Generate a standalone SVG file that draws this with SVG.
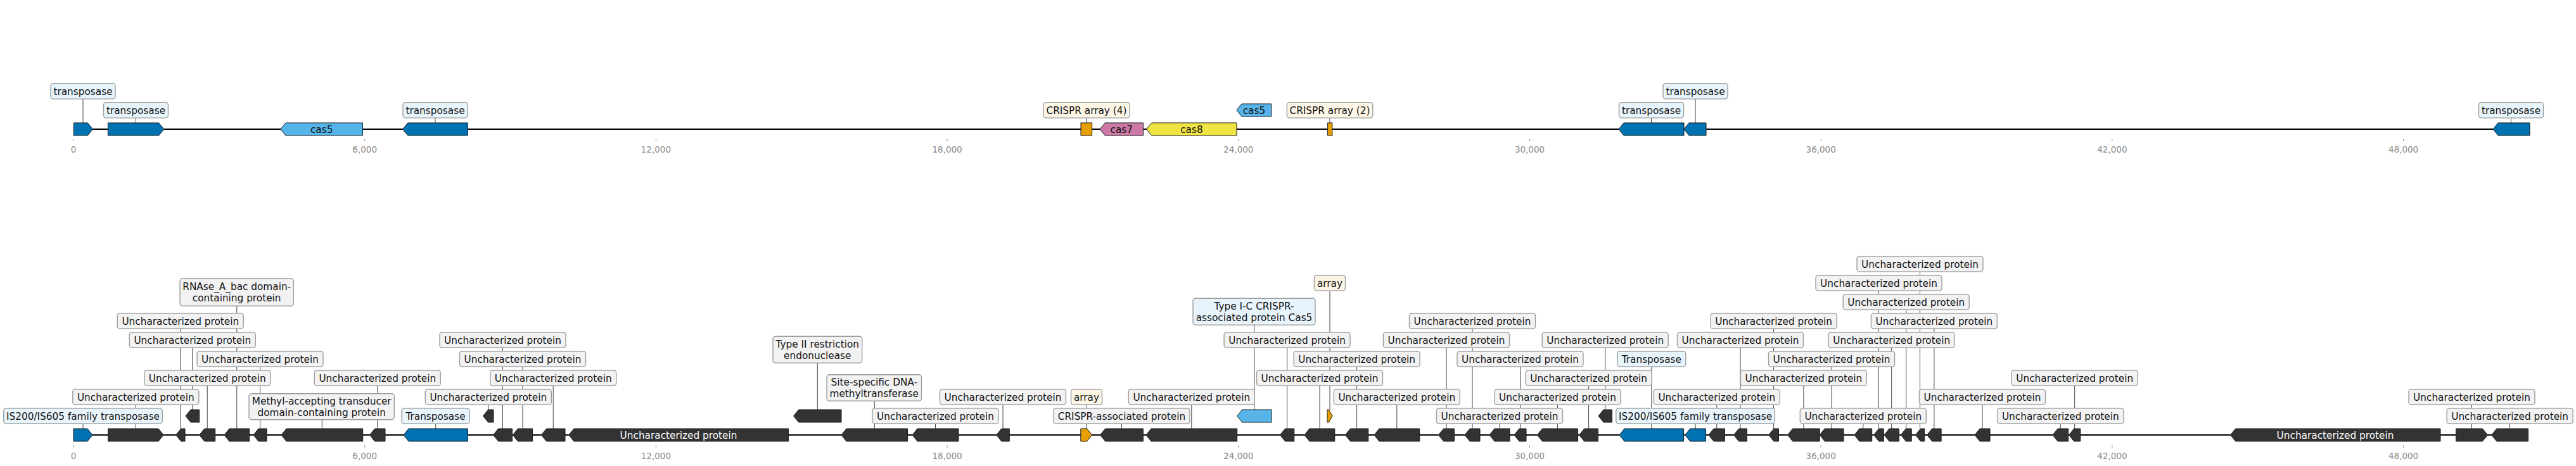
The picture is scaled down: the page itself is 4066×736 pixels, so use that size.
<svg xmlns="http://www.w3.org/2000/svg" width="4066" height="736" viewBox="0 0 4066 736">
<style>
text{font-family:"DejaVu Sans","Liberation Sans",sans-serif;font-size:15.3px;fill:#111;text-anchor:middle}
.bb{stroke:#000;stroke-width:2.2;fill:none}
.conn line{stroke:#444;stroke-width:1}
.g{stroke:#1a1a1a;stroke-width:1}
.dk{fill:#333}
.bl{fill:#0072B2}
.sk{fill:#56B4E9}
.or{fill:#E69F00}
.pk{fill:#CC79A7}
.ye{fill:#F0E442}
.lb{fill:#f2f2f2;stroke:#9e9e9e;stroke-width:1.4}
.lb.t{fill:#e8f4fb}
.lb.a{fill:#fdf6e6}
.in{fill:#fff}
.tk line{stroke:#999;stroke-width:1}
.tk text{fill:#888;font-size:13.5px}
</style>
<defs>
<rect id="u" width="199" height="24.6" rx="4"/>
</defs>

<g id="backbones">
<line class="bb" x1="116" y1="204" x2="3993" y2="204"/>
<line class="bb" x1="116" y1="687" x2="3990.5" y2="687"/>
</g>

<g id="axes" class="tk">
<line x1="116" y1="219" x2="116" y2="223"/><text x="116" y="240.5">0</text>
<line x1="575.7" y1="219" x2="575.7" y2="223"/><text x="575.7" y="240.5">6,000</text>
<line x1="1035.4" y1="219" x2="1035.4" y2="223"/><text x="1035.4" y="240.5">12,000</text>
<line x1="1495.1" y1="219" x2="1495.1" y2="223"/><text x="1495.1" y="240.5">18,000</text>
<line x1="1954.8" y1="219" x2="1954.8" y2="223"/><text x="1954.8" y="240.5">24,000</text>
<line x1="2414.5" y1="219" x2="2414.5" y2="223"/><text x="2414.5" y="240.5">30,000</text>
<line x1="2874.2" y1="219" x2="2874.2" y2="223"/><text x="2874.2" y="240.5">36,000</text>
<line x1="3333.9" y1="219" x2="3333.9" y2="223"/><text x="3333.9" y="240.5">42,000</text>
<line x1="3793.6" y1="219" x2="3793.6" y2="223"/><text x="3793.6" y="240.5">48,000</text>
<line x1="116" y1="703" x2="116" y2="707"/><text x="116" y="724.5">0</text>
<line x1="575.7" y1="703" x2="575.7" y2="707"/><text x="575.7" y="724.5">6,000</text>
<line x1="1035.4" y1="703" x2="1035.4" y2="707"/><text x="1035.4" y="724.5">12,000</text>
<line x1="1495.1" y1="703" x2="1495.1" y2="707"/><text x="1495.1" y="724.5">18,000</text>
<line x1="1954.8" y1="703" x2="1954.8" y2="707"/><text x="1954.8" y="724.5">24,000</text>
<line x1="2414.5" y1="703" x2="2414.5" y2="707"/><text x="2414.5" y="724.5">30,000</text>
<line x1="2874.2" y1="703" x2="2874.2" y2="707"/><text x="2874.2" y="724.5">36,000</text>
<line x1="3333.9" y1="703" x2="3333.9" y2="707"/><text x="3333.9" y="724.5">42,000</text>
<line x1="3793.6" y1="703" x2="3793.6" y2="707"/><text x="3793.6" y="724.5">48,000</text>
</g>

<g id="connectors" class="conn">
<line x1="131" y1="144" x2="131" y2="194"/>
<line x1="214.5" y1="174" x2="214.5" y2="194"/>
<line x1="687" y1="174" x2="687" y2="194"/>
<line x1="1715" y1="174" x2="1715" y2="194"/>
<line x1="2099" y1="174" x2="2099" y2="194"/>
<line x1="2606.5" y1="174" x2="2606.5" y2="194"/>
<line x1="2676" y1="144" x2="2676" y2="194"/>
<line x1="3963.5" y1="174" x2="3963.5" y2="194"/>
<line x1="131" y1="657" x2="131" y2="677"/>
<line x1="214.3" y1="627" x2="214.3" y2="677"/>
<line x1="284.8" y1="507" x2="284.8" y2="677"/>
<line x1="303.8" y1="537" x2="303.8" y2="647"/>
<line x1="327.2" y1="597" x2="327.2" y2="677"/>
<line x1="373.8" y1="461" x2="373.8" y2="677"/>
<line x1="410.5" y1="567" x2="410.5" y2="677"/>
<line x1="508.3" y1="642" x2="508.3" y2="677"/>
<line x1="595.8" y1="597" x2="595.8" y2="677"/>
<line x1="687.7" y1="657" x2="687.7" y2="677"/>
<line x1="770.8" y1="627" x2="770.8" y2="647"/>
<line x1="793.5" y1="537" x2="793.5" y2="677"/>
<line x1="825" y1="567" x2="825" y2="677"/>
<line x1="873.2" y1="597" x2="873.2" y2="677"/>
<line x1="1290.3" y1="552" x2="1290.3" y2="647"/>
<line x1="1380.3" y1="612" x2="1380.3" y2="677"/>
<line x1="1476.5" y1="657" x2="1476.5" y2="677"/>
<line x1="1583" y1="627" x2="1583" y2="677"/>
<line x1="1715" y1="627" x2="1715" y2="677"/>
<line x1="1770.5" y1="657" x2="1770.5" y2="677"/>
<line x1="1880.8" y1="627" x2="1880.8" y2="677"/>
<line x1="1979.8" y1="492" x2="1979.8" y2="647"/>
<line x1="2031.6" y1="537" x2="2031.6" y2="677"/>
<line x1="2083" y1="597" x2="2083" y2="677"/>
<line x1="2099" y1="447" x2="2099" y2="647"/>
<line x1="2141.6" y1="567" x2="2141.6" y2="677"/>
<line x1="2204.8" y1="627" x2="2204.8" y2="677"/>
<line x1="2283" y1="537" x2="2283" y2="677"/>
<line x1="2324" y1="507" x2="2324" y2="677"/>
<line x1="2367" y1="657" x2="2367" y2="677"/>
<line x1="2399.5" y1="567" x2="2399.5" y2="677"/>
<line x1="2458.5" y1="627" x2="2458.5" y2="677"/>
<line x1="2507.6" y1="597" x2="2507.6" y2="677"/>
<line x1="2533.7" y1="537" x2="2533.7" y2="647"/>
<line x1="2606.8" y1="567" x2="2606.8" y2="677"/>
<line x1="2676.1" y1="657" x2="2676.1" y2="677"/>
<line x1="2709.8" y1="627" x2="2709.8" y2="677"/>
<line x1="2747" y1="537" x2="2747" y2="677"/>
<line x1="2799.6" y1="507" x2="2799.6" y2="677"/>
<line x1="2846.9" y1="597" x2="2846.9" y2="677"/>
<line x1="2891" y1="567" x2="2891" y2="677"/>
<line x1="2940.8" y1="657" x2="2940.8" y2="677"/>
<line x1="2965.5" y1="447" x2="2965.5" y2="677"/>
<line x1="2985.7" y1="537" x2="2985.7" y2="677"/>
<line x1="3008.7" y1="477" x2="3008.7" y2="677"/>
<line x1="3030.5" y1="417" x2="3030.5" y2="677"/>
<line x1="3052.9" y1="507" x2="3052.9" y2="677"/>
<line x1="3129" y1="627" x2="3129" y2="677"/>
<line x1="3252.3" y1="657" x2="3252.3" y2="677"/>
<line x1="3274.7" y1="597" x2="3274.7" y2="677"/>
<line x1="3901.5" y1="627" x2="3901.5" y2="677"/>
<line x1="3961.6" y1="657" x2="3961.6" y2="677"/>
</g>

<g id="top-track">
<g id="t1"><polygon class="g bl" points="116.3,194 138.4,194 146.4,204 138.4,214 116.3,214"/><rect class="lb t" x="80" y="131.7" width="102" height="24.6" rx="4"/><text x="131" y="149.6">transposase</text></g>
<g id="t2"><polygon class="g bl" points="170.4,194 250.7,194 258.7,204 250.7,214 170.4,214"/><rect class="lb t" x="163.5" y="161.7" width="102" height="24.6" rx="4"/><text x="214.5" y="179.6">transposase</text></g>
<g id="t3"><polygon class="g sk" points="442.9,204 450.9,194 572.5,194 572.5,214 450.9,214"/><text x="507.7" y="209.6">cas5</text></g>
<g id="t4"><polygon class="g bl" points="635.7,204 643.7,194 738.3,194 738.3,214 643.7,214"/><rect class="lb t" x="636" y="161.7" width="102" height="24.6" rx="4"/><text x="687" y="179.6">transposase</text></g>
<g id="t5"><rect class="g or" x="1706" y="194" width="17.6" height="20"/><rect class="lb a" x="1647" y="161.7" width="136" height="24.6" rx="4"/><text x="1715" y="179.6">CRISPR array (4)</text></g>
<g id="t6"><polygon class="g pk" points="1736.2,204 1744.2,194 1804.4,194 1804.4,214 1744.2,214"/><text x="1770.3" y="209.6">cas7</text></g>
<g id="t7"><polygon class="g ye" points="1809.7,204 1817.7,194 1952,194 1952,214 1817.7,214"/><text x="1880.9" y="209.6">cas8</text></g>
<g id="t8"><polygon class="g sk" points="1952,174 1960,164 2006.8,164 2006.8,184 1960,184"/><text x="1979.4" y="179.6">cas5</text></g>
<g id="t9"><rect class="g or" x="2095.6" y="194" width="7.2" height="20"/><rect class="lb a" x="2031.3" y="161.7" width="135.5" height="24.6" rx="4"/><text x="2099" y="179.6">CRISPR array (2)</text></g>
<g id="t10"><polygon class="g bl" points="2555,204 2563,194 2658,194 2658,214 2563,214"/><rect class="lb t" x="2555.5" y="161.7" width="102" height="24.6" rx="4"/><text x="2606.5" y="179.6">transposase</text></g>
<g id="t11"><polygon class="g bl" points="2658,204 2666,194 2693,194 2693,214 2666,214"/><rect class="lb t" x="2625" y="131.7" width="102" height="24.6" rx="4"/><text x="2676" y="149.6">transposase</text></g>
<g id="t12"><polygon class="g bl" points="3935,204 3943,194 3993,194 3993,214 3943,214"/><rect class="lb t" x="3912.5" y="161.7" width="102" height="24.6" rx="4"/><text x="3963.5" y="179.6">transposase</text></g>
</g>

<g id="bottom-track">
<g id="b1"><polygon class="g bl" points="116,677 138,677 146,687 138,697 116,697"/><rect class="lb t" x="5.8" y="644.7" width="250.4" height="24.6" rx="4"/><text x="131" y="662.6">IS200/IS605 family transposase</text></g>
<g id="b2"><polygon class="g dk" points="170.5,677 250,677 258,687 250,697 170.5,697"/><use href="#u" class="lb" x="114.8" y="614.7"/><text x="214.3" y="632.6">Uncharacterized protein</text></g>
<g id="b3"><polygon class="g dk" points="277.7,687 285.7,677 292,677 292,697 285.7,697"/><use href="#u" class="lb" x="185.3" y="494.7"/><text x="284.8" y="512.6">Uncharacterized protein</text></g>
<g id="b4"><polygon class="g dk" points="293,657 301,647 314.7,647 314.7,667 301,667"/><use href="#u" class="lb" x="204.3" y="524.7"/><text x="303.8" y="542.6">Uncharacterized protein</text></g>
<g id="b5"><polygon class="g dk" points="314.7,687 322.7,677 339.7,677 339.7,697 322.7,697"/><use href="#u" class="lb" x="227.7" y="584.7"/><text x="327.2" y="602.6">Uncharacterized protein</text></g>
<g id="b6"><polygon class="g dk" points="354,687 362,677 393.7,677 393.7,697 362,697"/><rect class="lb" x="284" y="440" width="179.4" height="43.3" rx="4"/><text x="373.7" y="458.3">RNAse_A_bac domain-</text><text x="373.7" y="476.3">containing protein</text></g>
<g id="b7"><polygon class="g dk" points="400,687 408,677 421,677 421,697 408,697"/><use href="#u" class="lb" x="311" y="554.7"/><text x="410.5" y="572.6">Uncharacterized protein</text></g>
<g id="b8"><polygon class="g dk" points="444,687 452,677 572.7,677 572.7,697 452,697"/><rect class="lb" x="393" y="621.7" width="229.3" height="41" rx="4"/><text x="507.7" y="639">Methyl-accepting transducer</text><text x="507.7" y="656.6">domain-containing protein</text></g>
<g id="b9"><polygon class="g dk" points="583.5,687 591.5,677 608,677 608,697 591.5,697"/><use href="#u" class="lb" x="496.3" y="584.7"/><text x="595.8" y="602.6">Uncharacterized protein</text></g>
<g id="b10"><polygon class="g bl" points="637,687 645,677 738.4,677 738.4,697 645,697"/><rect class="lb t" x="634" y="644.7" width="107" height="24.6" rx="4"/><text x="687.5" y="662.6">Transposase</text></g>
<g id="b11"><polygon class="g dk" points="762.5,657 770.5,647 779,647 779,667 770.5,667"/><use href="#u" class="lb" x="671.3" y="614.7"/><text x="770.8" y="632.6">Uncharacterized protein</text></g>
<g id="b12"><polygon class="g dk" points="778.6,687 786.6,677 808.5,677 808.5,697 786.6,697"/><use href="#u" class="lb" x="694" y="524.7"/><text x="793.5" y="542.6">Uncharacterized protein</text></g>
<g id="b13"><polygon class="g dk" points="809.4,687 817.4,677 840.6,677 840.6,697 817.4,697"/><use href="#u" class="lb" x="725.5" y="554.7"/><text x="825" y="572.6">Uncharacterized protein</text></g>
<g id="b14"><polygon class="g dk" points="854.5,687 862.5,677 892,677 892,697 862.5,697"/><use href="#u" class="lb" x="773.7" y="584.7"/><text x="873.2" y="602.6">Uncharacterized protein</text></g>
<g id="b15"><polygon class="g dk" points="897.8,687 905.8,677 1244.6,677 1244.6,697 905.8,697"/><text class="in" x="1071" y="692.6">Uncharacterized protein</text></g>
<g id="b16"><polygon class="g dk" points="1252.6,657 1260.6,647 1328,647 1328,667 1260.6,667"/><rect class="lb" x="1220" y="531.3" width="140.7" height="42" rx="4"/><text x="1290.3" y="549.1">Type II restriction</text><text x="1290.3" y="566.7">endonuclease</text></g>
<g id="b17"><polygon class="g dk" points="1328,687 1336,677 1432.6,677 1432.6,697 1336,697"/><rect class="lb" x="1305" y="591.7" width="149.5" height="41.6" rx="4"/><text x="1379.8" y="609.3">Site-specific DNA-</text><text x="1379.8" y="626.9">methyltransferase</text></g>
<g id="b18"><polygon class="g dk" points="1440,687 1448,677 1513,677 1513,697 1448,697"/><use href="#u" class="lb" x="1377" y="644.7"/><text x="1476.5" y="662.6">Uncharacterized protein</text></g>
<g id="b19"><polygon class="g dk" points="1572.8,687 1580.8,677 1593.3,677 1593.3,697 1580.8,697"/><use href="#u" class="lb" x="1483.5" y="614.7"/><text x="1583" y="632.6">Uncharacterized protein</text></g>
<g id="b20"><polygon class="g or" points="1705.8,677 1715.6,677 1723.6,687 1715.6,697 1705.8,697"/><rect class="lb a" x="1690.5" y="614.7" width="49" height="24.6" rx="4"/><text x="1715" y="632.6">array</text></g>
<g id="b21"><polygon class="g dk" points="1736.6,687 1744.6,677 1804.4,677 1804.4,697 1744.6,697"/><rect class="lb" x="1663" y="644.7" width="215" height="24.6" rx="4"/><text x="1770.5" y="662.6">CRISPR-associated protein</text></g>
<g id="b22"><polygon class="g dk" points="1809,687 1817,677 1952.7,677 1952.7,697 1817,697"/><use href="#u" class="lb" x="1781.3" y="614.7"/><text x="1880.8" y="632.6">Uncharacterized protein</text></g>
<g id="b23"><polygon class="g sk" points="1952.7,657 1960.7,647 2007,647 2007,667 1960.7,667"/><rect class="lb t" x="1883" y="471.3" width="193" height="42" rx="4"/><text x="1979.5" y="489.1">Type I-C CRISPR-</text><text x="1979.5" y="506.7">associated protein Cas5</text></g>
<g id="b24"><polygon class="g dk" points="2020.5,687 2028.5,677 2042.8,677 2042.8,697 2028.5,697"/><use href="#u" class="lb" x="1932.1" y="524.7"/><text x="2031.6" y="542.6">Uncharacterized protein</text></g>
<g id="b25"><polygon class="g dk" points="2059,687 2067,677 2106.8,677 2106.8,697 2067,697"/><use href="#u" class="lb" x="1983.5" y="584.7"/><text x="2083" y="602.6">Uncharacterized protein</text></g>
<g id="b26"><polygon class="g or" points="2095,647 2097.5,647 2103,657 2097.5,667 2095,667"/><rect class="lb a" x="2074.5" y="434.7" width="49" height="24.6" rx="4"/><text x="2099" y="452.6">array</text></g>
<g id="b27"><polygon class="g dk" points="2123.4,687 2131.4,677 2159.8,677 2159.8,697 2131.4,697"/><use href="#u" class="lb" x="2042.1" y="554.7"/><text x="2141.6" y="572.6">Uncharacterized protein</text></g>
<g id="b28"><polygon class="g dk" points="2169,687 2177,677 2240.7,677 2240.7,697 2177,697"/><use href="#u" class="lb" x="2105.3" y="614.7"/><text x="2204.8" y="632.6">Uncharacterized protein</text></g>
<g id="b29"><polygon class="g dk" points="2270.5,687 2278.5,677 2295.4,677 2295.4,697 2278.5,697"/><use href="#u" class="lb" x="2183.5" y="524.7"/><text x="2283" y="542.6">Uncharacterized protein</text></g>
<g id="b30"><polygon class="g dk" points="2312,687 2320,677 2336,677 2336,697 2320,697"/><use href="#u" class="lb" x="2224.5" y="494.7"/><text x="2324" y="512.6">Uncharacterized protein</text></g>
<g id="b31"><polygon class="g dk" points="2351,687 2359,677 2383,677 2383,697 2359,697"/><use href="#u" class="lb" x="2267.5" y="644.7"/><text x="2367" y="662.6">Uncharacterized protein</text></g>
<g id="b32"><polygon class="g dk" points="2390,687 2398,677 2409,677 2409,697 2398,697"/><use href="#u" class="lb" x="2300" y="554.7"/><text x="2399.5" y="572.6">Uncharacterized protein</text></g>
<g id="b33"><polygon class="g dk" points="2426.4,687 2434.4,677 2490.6,677 2490.6,697 2434.4,697"/><use href="#u" class="lb" x="2359" y="614.7"/><text x="2458.5" y="632.6">Uncharacterized protein</text></g>
<g id="b34"><polygon class="g dk" points="2492.7,687 2500.7,677 2522.5,677 2522.5,697 2500.7,697"/><use href="#u" class="lb" x="2408.1" y="584.7"/><text x="2507.6" y="602.6">Uncharacterized protein</text></g>
<g id="b35"><polygon class="g dk" points="2523,657 2531,647 2544.5,647 2544.5,667 2531,667"/><use href="#u" class="lb" x="2434.2" y="524.7"/><text x="2533.7" y="542.6">Uncharacterized protein</text></g>
<g id="b36"><polygon class="g bl" points="2556,687 2564,677 2657.6,677 2657.6,697 2564,697"/><rect class="lb t" x="2552.8" y="554.7" width="108" height="24.6" rx="4"/><text x="2606.8" y="572.6">Transposase</text></g>
<g id="b37"><polygon class="g bl" points="2659.7,687 2667.7,677 2692.5,677 2692.5,697 2667.7,697"/><rect class="lb t" x="2550.8" y="644.7" width="250.6" height="24.6" rx="4"/><text x="2676.1" y="662.6">IS200/IS605 family transposase</text></g>
<g id="b38"><polygon class="g dk" points="2697,687 2705,677 2722.5,677 2722.5,697 2705,697"/><use href="#u" class="lb" x="2610.3" y="614.7"/><text x="2709.8" y="632.6">Uncharacterized protein</text></g>
<g id="b39"><polygon class="g dk" points="2736.6,687 2744.6,677 2757.4,677 2757.4,697 2744.6,697"/><use href="#u" class="lb" x="2647.5" y="524.7"/><text x="2747" y="542.6">Uncharacterized protein</text></g>
<g id="b40"><polygon class="g dk" points="2791.8,687 2799.8,677 2807.5,677 2807.5,697 2799.8,697"/><use href="#u" class="lb" x="2700.1" y="494.7"/><text x="2799.6" y="512.6">Uncharacterized protein</text></g>
<g id="b41"><polygon class="g dk" points="2821.6,687 2829.6,677 2872.2,677 2872.2,697 2829.6,697"/><use href="#u" class="lb" x="2747.4" y="584.7"/><text x="2846.9" y="602.6">Uncharacterized protein</text></g>
<g id="b42"><polygon class="g dk" points="2872.2,687 2880.2,677 2910,677 2910,697 2880.2,697"/><use href="#u" class="lb" x="2791.5" y="554.7"/><text x="2891" y="572.6">Uncharacterized protein</text></g>
<g id="b43"><polygon class="g dk" points="2927,687 2935,677 2954.7,677 2954.7,697 2935,697"/><use href="#u" class="lb" x="2841.3" y="644.7"/><text x="2940.8" y="662.6">Uncharacterized protein</text></g>
<g id="b44"><polygon class="g dk" points="2957.6,687 2965.6,677 2973.3,677 2973.3,697 2965.6,697"/><use href="#u" class="lb" x="2866" y="434.7"/><text x="2965.5" y="452.6">Uncharacterized protein</text></g>
<g id="b45"><polygon class="g dk" points="2974.1,687 2982.1,677 2997.4,677 2997.4,697 2982.1,697"/><use href="#u" class="lb" x="2886.2" y="524.7"/><text x="2985.7" y="542.6">Uncharacterized protein</text></g>
<g id="b46"><polygon class="g dk" points="3000.3,687 3008.3,677 3017.2,677 3017.2,697 3008.3,697"/><use href="#u" class="lb" x="2909.2" y="464.7"/><text x="3008.7" y="482.6">Uncharacterized protein</text></g>
<g id="b47"><polygon class="g dk" points="3023.5,687 3031.5,677 3037.6,677 3037.6,697 3031.5,697"/><use href="#u" class="lb" x="2931" y="404.7"/><text x="3030.5" y="422.6">Uncharacterized protein</text></g>
<g id="b48"><polygon class="g dk" points="3041.7,687 3049.7,677 3064.1,677 3064.1,697 3049.7,697"/><use href="#u" class="lb" x="2953.4" y="494.7"/><text x="3052.9" y="512.6">Uncharacterized protein</text></g>
<g id="b49"><polygon class="g dk" points="3117,687 3125,677 3141,677 3141,697 3125,697"/><use href="#u" class="lb" x="3029.5" y="614.7"/><text x="3129" y="632.6">Uncharacterized protein</text></g>
<g id="b50"><polygon class="g dk" points="3240,687 3248,677 3264.7,677 3264.7,697 3248,697"/><use href="#u" class="lb" x="3152.8" y="644.7"/><text x="3252.3" y="662.6">Uncharacterized protein</text></g>
<g id="b51"><polygon class="g dk" points="3265.6,687 3273.6,677 3283.8,677 3283.8,697 3273.6,697"/><use href="#u" class="lb" x="3175.2" y="584.7"/><text x="3274.7" y="602.6">Uncharacterized protein</text></g>
<g id="b52"><polygon class="g dk" points="3520.6,687 3528.6,677 3852,677 3852,697 3528.6,697"/><text class="in" x="3686" y="692.6">Uncharacterized protein</text></g>
<g id="b53"><polygon class="g dk" points="3876.6,677 3918.5,677 3926.5,687 3918.5,697 3876.6,697"/><use href="#u" class="lb" x="3802" y="614.7"/><text x="3901.5" y="632.6">Uncharacterized protein</text></g>
<g id="b54"><polygon class="g dk" points="3932.8,687 3940.8,677 3990.5,677 3990.5,697 3940.8,697"/><use href="#u" class="lb" x="3862.1" y="644.7"/><text x="3961.6" y="662.6">Uncharacterized protein</text></g>
</g>
</svg>
